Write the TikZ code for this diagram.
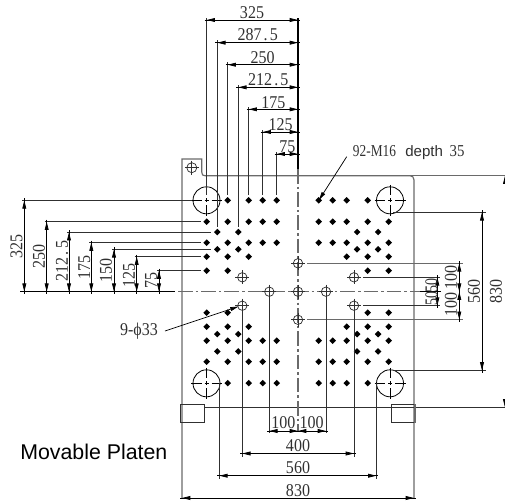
\documentclass[tikz,border=0pt]{standalone}
\usepackage{fontspec}
\usetikzlibrary{arrows.meta}
\setmainfont{Liberation Serif}
\newfontfamily\dimf[FakeStretch=0.89]{Liberation Serif}
\newfontfamily\sansf{Liberation Sans}
\definecolor{plate}{HTML}{6A6A6A}
\definecolor{ink}{HTML}{303030}
\newcommand{\dd}{\kern.12em.\kern.12em}
\tikzset{
  plateline/.style={draw=plate,line width=.85pt},
  extline/.style={draw=ink,line width=.6pt},
  grayext/.style={draw=plate,line width=.8pt},
  dimline/.style={draw=black,line width=.55pt},
  arrowline/.style={draw=black,line width=.55pt,{Triangle[length=6.2pt,width=2.9pt]}-{Triangle[length=6.2pt,width=2.9pt]}},
  tipline/.style={draw=black,line width=.55pt,-{Triangle[length=6.2pt,width=2.9pt]}},
  centerline/.style={draw=plate,line width=.8pt,dash pattern=on 11pt off 2.2pt on 2pt off 2.2pt},
  dimtext/.style={inner sep=0pt,text=ink,font=\dimf\fontsize{13.5}{15}\selectfont},
  vdimtext/.style={dimtext,rotate=90},
  holeline/.style={draw=black,line width=.6pt},
  smallhole/.style={draw=ink,line width=.55pt},
}
\newcommand{\hdimn}[3]{%
  \draw[dimline] ({#1-2},#3) -- ({#2+2},#3);
  \draw[arrowline] (#1,#3) -- (#2,#3);}
\newcommand{\vdimn}[3]{%
  \draw[dimline] (#1,{#2-2}) -- (#1,{#3+2});
  \draw[arrowline] (#1,#2) -- (#1,#3);}
\newcommand{\bighole}[2]{%
  \draw[holeline] (#1,#2) circle (13.5);
  \draw[holeline] ({#1-15.5},#2) -- ({#1-5},#2) ({#1-2},#2) -- ({#1+2},#2) ({#1+5},#2) -- ({#1+15.5},#2);
  \draw[holeline] (#1,{#2-15.5}) -- (#1,{#2-5}) (#1,{#2-2}) -- (#1,{#2+2}) (#1,{#2+5}) -- (#1,{#2+15.5});}
\newcommand{\smallholeat}[2]{%
  \draw[smallhole] (#1,#2) circle (4.7);
  \draw[smallhole] ({#1-7},#2) -- ({#1+7},#2) (#1,{#2-7}) -- (#1,{#2+7});}
\newcommand{\hdot}[2]{%
  \fill[black] ({#1-3.3},#2) -- (#1,{#2-3.3}) -- ({#1+3.3},#2) -- (#1,{#2+3.3}) -- cycle;
  \fill[black] ({595.4-#1-3.3},#2) -- ({595.4-#1},{#2-3.3}) -- ({595.4-#1+3.3},#2) -- ({595.4-#1},{#2+3.3}) -- cycle;
  \fill[black] ({#1-3.3},{583.4-#2}) -- (#1,{583.4-#2-3.3}) -- ({#1+3.3},{583.4-#2}) -- (#1,{583.4-#2+3.3}) -- cycle;
  \fill[black] ({595.4-#1-3.3},{583.4-#2}) -- ({595.4-#1},{583.4-#2-3.3}) -- ({595.4-#1+3.3},{583.4-#2}) -- ({595.4-#1},{583.4-#2+3.3}) -- cycle;}
\begin{document}
\begin{tikzpicture}[x=.75pt,y=-.75pt]
\useasboundingbox (0,0) rectangle (505,501);
\clip (0,0) rectangle (505,501);
% plate outline
\draw[plateline] (182,498) -- (182,159) -- (201.7,159) -- (201.7,172) .. controls (201.7,175) and (203,175.7) .. (205,175.7) -- (410,175.7) .. controls (412.5,175.7) and (414,177.5) .. (414,180) -- (414,498);
\draw[plateline] (410,175.7) -- (505,175.7);
\draw[extline] (204,407.5) -- (505,407.5);
\draw[extline] (180.7,404.3) rectangle (204.3,422.7);
\draw[extline] (391.3,404.3) rectangle (415.7,422.7);
\draw[draw=plate,line width=1.3pt] (415,404.3) -- (415,422.7);
% centre lines
\draw[draw=black,line width=1.1pt] (298,18) -- (298,169);
\draw[centerline] (298,169) -- (298,432);
\draw[centerline] (178,291.7) -- (421,291.7);
\draw[draw=black,line width=1.1pt] (20,291.7) -- (175,291.7);
\draw[draw=black,line width=.9pt] (420,291.7) -- (441,291.7);
% dots
\foreach \py/\pxs in {200.3/{227.7,248.7,262.7,276.7},
  221.7/{206.7,227.7,248.7,262.7,276.7},
  232/{217.3,238.3},
  242.7/{206.7,227.7,248.7,262.7,276.7},
  249.3/{217.3,238.3},
  256.7/{206.7,227.7,248.7},
  270.7/{206.7,227.7}}{
  \foreach \px in \pxs {\hdot{\px}{\py}}
}
% holes
\bighole{206.5}{200.3}\bighole{390}{200.3}\bighole{206.5}{383.3}\bighole{390}{383.3}
\draw[smallhole] (184.8,167.7) -- (198.8,167.7) (191.8,160.7) -- (191.8,174.7);
\draw[smallhole] (191.8,167.7) circle (5);
\smallholeat{242.3}{277.3}\smallholeat{242.3}{305.7}\smallholeat{354}{277.3}\smallholeat{354}{305.7}
\smallholeat{269.3}{291.7}\smallholeat{298}{291.7}\smallholeat{326}{291.7}\smallholeat{298}{263.3}\smallholeat{298}{319.8}
% top extension lines
\draw[extline] (206.7,18) -- (206.7,195) (217.3,40) -- (217.3,227) (227.7,62) -- (227.7,195)
  (238.3,85) -- (238.3,227) (248.7,107) -- (248.7,195) (262.7,130) -- (262.7,195) (276.7,152) -- (276.7,195);
\hdimn{206.7}{298}{20}\hdimn{217.3}{298}{42.7}\hdimn{227.7}{298}{64.7}\hdimn{238.3}{298}{87.3}
\hdimn{248.7}{298}{109.3}\hdimn{262.7}{298}{132}\hdimn{276.7}{298}{154}
\node[dimtext] (t325) at (252,12.5) {325};
\node[dimtext] (t2875) at (257.7,35) {287\dd5};
\node[dimtext] (t250) at (262.7,58) {250};
\node[dimtext] (t2125) at (268.3,80) {212\dd5};
\node[dimtext] (t175) at (273.3,102.5) {175};
\node[dimtext] (t125) at (280.7,125) {125};
\node[dimtext] (t75) at (287.3,147) {75};
% left dimensions
\draw[extline] (22,200.4) -- (192,200.4) (44.5,221.7) -- (200.5,221.7) (67,232.2) -- (211,232.2)
  (89,242.5) -- (200.5,242.5) (112,249.3) -- (211,249.3) (134.5,256.7) -- (200.5,256.7) (157,270.5) -- (200.5,270.5);
\vdimn{24.3}{200.4}{291.7}\vdimn{46.7}{221.7}{291.7}\vdimn{69}{232.2}{291.7}\vdimn{91.3}{242.5}{291.7}
\vdimn{114}{249.3}{291.7}\vdimn{136.7}{256.7}{291.7}\vdimn{159}{270.5}{291.7}
\node[vdimtext] (l325) at (16.5,246.7) {325};
\node[vdimtext] (l250) at (39,256) {250};
\node[vdimtext] (l2125) at (62,261) {212\dd5};
\node[vdimtext] (l175) at (84.3,267) {175};
\node[vdimtext] (l150) at (106,270.7) {150};
\node[vdimtext] (l125) at (129,275) {125};
\node[vdimtext] (l75) at (151,280.7) {75};
\node[dimtext] (nine) at (139,331) {9-ϕ33};
\coordinate (nineleader) at (165,331);
\coordinate (ninetip) at (238.5,306.5);
\draw[tipline] (nineleader) -- (ninetip);
% M16 label
\node[anchor=west,inner sep=0pt,text=ink] (m16) at (352.7,153) {\dimf\fontsize{12.5}{14}\selectfont\scalebox{.9}[1]{92-M16}\hspace{7pt}{\sansf\fontsize{11.3}{14}\selectfont depth}\hspace{5pt}35};
\coordinate (m16leader) at (346.7,156.7);
\coordinate (m16tip) at (319,200);
\draw[tipline] (m16leader) -- (m16tip);
% right dimensions
\draw[grayext] (307,263.3) -- (463,263.3) (307,319.8) -- (463,319.8);
\draw[extline] (363.3,277.3) -- (440,277.3) (363.3,305.7) -- (440,305.7);
\vdimn{437.3}{277.3}{305.7}
\draw[dimline] (459.3,261) -- (459.3,322);
\draw[arrowline] (459.3,263.3) -- (459.3,291.7);
\draw[arrowline] (459.3,291.7) -- (459.3,319.8);
\node[vdimtext] (r50) at (431.5,292) {\scalebox{.87}[1]{5050}};
\node[vdimtext] (r100a) at (451,277.5) {100};
\node[vdimtext] (r100b) at (451,304) {100};
\draw[extline] (393,212.3) -- (486,212.3) (393,370.5) -- (486,370.5);
\vdimn{482}{212.3}{370.5}
\node[vdimtext] (r560) at (474,291) {560};
\node[vdimtext] (r830) at (496,291) {830};
\draw[arrowline] (505,175.7) -- (505,407.5);
% bottom dimensions
\draw[extline] (269.3,297) -- (269.3,433) (326,297) -- (326,433);
\draw[extline] (242.3,311) -- (242.3,456.5) (354,311) -- (354,456.5);
\draw[extline] (219.3,383) -- (219.3,479) (376.3,383) -- (376.3,479);
\draw[dimline] (267,431) -- (328,431);
\draw[arrowline] (269.3,431) -- (298,431);
\draw[arrowline] (298,431) -- (326,431);
\hdimn{242.3}{354}{453.5}
\hdimn{219.3}{376.3}{475.7}
\hdimn{182}{414}{498}
\node[dimtext] (b100a) at (283.3,423) {100};
\node[dimtext] (b100b) at (311.7,423) {100};
\node[dimtext] (b400) at (298,445.7) {400};
\node[dimtext] (b560) at (298,467.7) {560};
\node[dimtext] (b830) at (298,490.7) {830};
\node[anchor=base west,inner sep=0pt,text=black,font=\sansf\fontsize{16}{18}\selectfont] (title) at (20,459) {Movable Platen};
\end{tikzpicture}
\end{document}
